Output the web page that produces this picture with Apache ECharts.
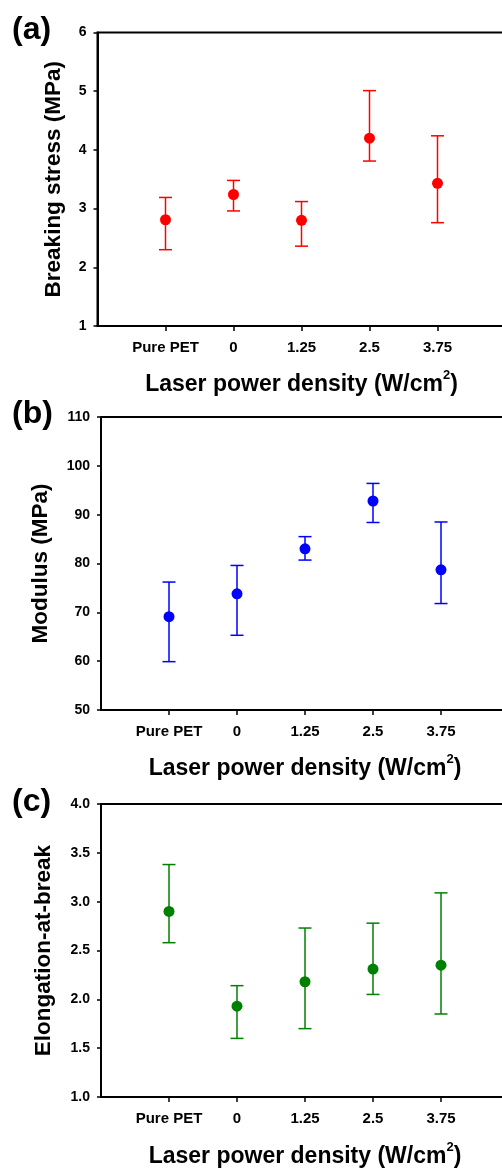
<!DOCTYPE html>
<html lang="en">

<head>
  <meta charset="UTF-8" />
  <title>Laser power density</title>
  <script src="https://cdn.jsdelivr.net/npm/echarts@6/dist/echarts.min.js"></script>
  <style>
    html, body { margin: 0; padding: 0; background: #fff; }
    #chart { width: 502px; height: 1168px; }
  </style>
</head>

<body>
  <div id="chart"></div>
</body>
<script type="text/javascript">
  // x tick labels
  var categories = ['Pure PET', '0', '1.25', '2.5', '3.75'];

  // (a) breaking stress, MPa
  var stressMean = [2.81, 3.24, 2.80, 4.20, 3.43];
  var stressLow = [2.30, 2.96, 2.36, 3.81, 2.76];
  var stressHigh = [3.19, 3.48, 3.12, 5.01, 4.24];

  // (b) modulus, MPa
  var modulusMean = [69.1, 73.8, 83.0, 92.8, 78.7];
  var modulusLow = [59.9, 65.3, 80.7, 88.4, 71.8];
  var modulusHigh = [76.2, 79.6, 85.5, 96.4, 88.5];

  // (c) elongation-at-break
  var elongMean = [2.90, 1.93, 2.18, 2.31, 2.35];
  var elongLow = [2.58, 1.60, 1.70, 2.05, 1.85];
  var elongHigh = [3.38, 2.14, 2.73, 2.78, 3.09];

  var FONT = 'Liberation Sans';

  // 前後各留一個空位，讓點落在 1..5
  var axisCats = [''].concat(categories, ['']);

  var myChart = echarts.init(document.getElementById('chart'), null, { renderer: 'canvas' });

  // 右邊框在畫面外
  var grids = [
    { left: 97.5, top: 32.5, width: 408, height: 293.5 },
    { left: 101, top: 417, width: 408, height: 293 },
    { left: 101, top: 804, width: 408, height: 293 }
  ];

  function xAxisFor(idx, gap) {
    return {
      type: 'category',
      gridIndex: idx,
      data: axisCats,
      boundaryGap: false,
      name: 'Laser power density (W/cm{sup|2})',
      nameLocation: 'middle',
      nameGap: gap,
      nameTextStyle: {
        fontFamily: FONT, fontWeight: 'bold', fontSize: 23, color: '#000',
        rich: {
          sup: { fontFamily: FONT, fontWeight: 'bold', fontSize: 13, color: '#000', padding: [0, 0, 18, 0] }
        }
      },
      axisLine: { lineStyle: { color: '#000', width: 2 } },
      axisTick: {
        inside: false, length: 5, alignWithLabel: true,
        lineStyle: { color: '#000', width: 1.5 },
        interval: function (i) { return i > 0 && i < axisCats.length - 1; }
      },
      axisLabel: {
        interval: 0, margin: 14,
        fontFamily: FONT, fontWeight: 'bold', fontSize: 15, color: '#000'
      },
      splitLine: { show: false }
    };
  }

  function yAxisFor(idx, name, min, max, step, gap, digits) {
    return {
      type: 'value',
      gridIndex: idx,
      min: min, max: max, interval: step,
      name: name,
      nameLocation: 'middle',
      nameGap: gap,
      nameTextStyle: { fontFamily: FONT, fontWeight: 'bold', fontSize: 22.5, color: '#000' },
      axisLine: { show: true, lineStyle: { color: '#000', width: 2 } },
      axisTick: { show: true, inside: false, length: 4, lineStyle: { color: '#000', width: 1.5 } },
      axisLabel: {
        margin: 11,
        fontFamily: FONT, fontWeight: 'bold', fontSize: 14, color: '#000',
        formatter: function (v) { return v.toFixed(digits); }
      },
      splitLine: { show: false }
    };
  }

  function pointsOf(mean) {
    return mean.map(function (v, i) { return [i + 1, v]; });
  }

  function barsOf(low, high) {
    return low.map(function (v, i) { return [i + 1, v, high[i]]; });
  }

  function errorBars(idx, low, high, color) {
    return {
      type: 'custom',
      xAxisIndex: idx,
      yAxisIndex: idx,
      z: 2,
      data: barsOf(low, high),
      renderItem: function (params, api) {
        var top = api.coord([api.value(0), api.value(2)]);
        var bot = api.coord([api.value(0), api.value(1)]);
        var cap = 6.5;
        var st = { stroke: color, lineWidth: 1.5 };
        return {
          type: 'group',
          children: [
            { type: 'line', shape: { x1: top[0], y1: top[1], x2: bot[0], y2: bot[1] }, style: st },
            { type: 'line', shape: { x1: top[0] - cap, y1: top[1], x2: top[0] + cap, y2: top[1] }, style: st },
            { type: 'line', shape: { x1: bot[0] - cap, y1: bot[1], x2: bot[0] + cap, y2: bot[1] }, style: st }
          ]
        };
      }
    };
  }

  function dots(idx, mean, color) {
    return {
      type: 'scatter',
      xAxisIndex: idx,
      yAxisIndex: idx,
      z: 3,
      symbol: 'circle',
      symbolSize: 11,
      itemStyle: { color: color, opacity: 1 },
      data: pointsOf(mean)
    };
  }

  function panelLabel(text, top) {
    return {
      text: text, left: 12, top: top, padding: 0,
      textStyle: { fontFamily: FONT, fontWeight: 'bold', fontSize: 32, color: '#000' }
    };
  }

  var option = {
    animation: false,
    backgroundColor: '#fff',
    title: [panelLabel('(a)', 14), panelLabel('(b)', 398), panelLabel('(c)', 786)],
    grid: grids.map(function (g) {
      return Object.assign({
        show: true, borderColor: '#000', borderWidth: 2, backgroundColor: 'transparent',
        outerBoundsMode: 'none', containLabel: false
      }, g);
    }),
    xAxis: [xAxisFor(0, 43), xAxisFor(1, 43), xAxisFor(2, 44)],
    yAxis: [
      yAxisFor(0, 'Breaking stress (MPa)', 1, 6, 1, 32, 0),
      yAxisFor(1, 'Modulus (MPa)', 50, 110, 10, 49, 0),
      yAxisFor(2, 'Elongation-at-break', 1, 4, 0.5, 46, 1)
    ],
    series: [
      errorBars(0, stressLow, stressHigh, '#ff0000'),
      dots(0, stressMean, '#ff0000'),
      errorBars(1, modulusLow, modulusHigh, '#0000ff'),
      dots(1, modulusMean, '#0000ff'),
      errorBars(2, elongLow, elongHigh, '#008000'),
      dots(2, elongMean, '#008000')
    ]
  };

  myChart.setOption(option);
</script>

</html>
